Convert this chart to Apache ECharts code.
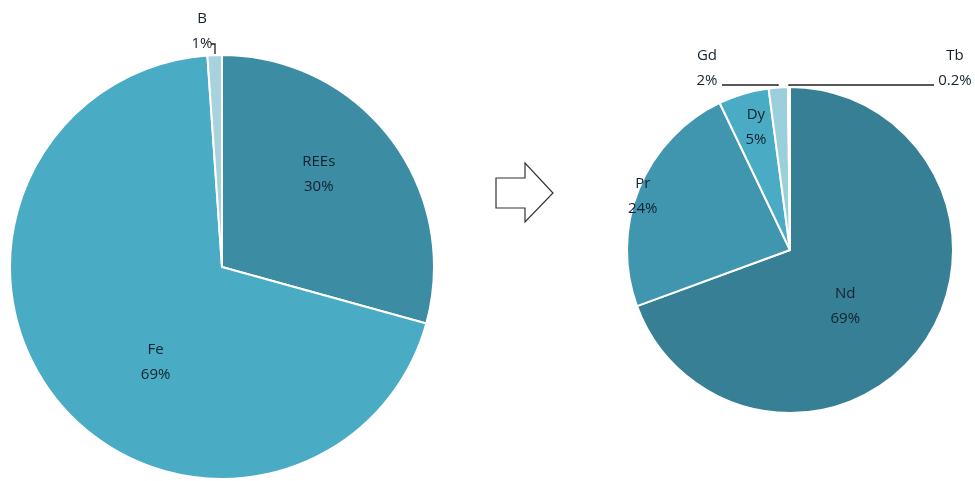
<!DOCTYPE html>
<html>
<head>
<meta charset="utf-8">
<script src="https://cdn.jsdelivr.net/npm/echarts@6/dist/echarts.min.js"></script>
<style>
  html, body { margin: 0; padding: 0; background: #fff; }
  #main { width: 975px; height: 481px; }
</style>
</head>
<body>
<div id="main"></div>
<script>
// left pie: magnet composition
var leftNames = ["REEs", "Fe", "B"];
var leftValues = [29.3, 69.6, 1.1];
var leftLabels = ["30%", "69%", "1%"];
var leftColors = ["#3c8ca4", "#4aabc5", "#a8d2de"];

// right pie: rare earth split
var rightNames = ["Nd", "Pr", "Dy", "Gd", "Tb"];
var rightValues = [69.4, 23.5, 5.0, 1.9, 0.2];
var rightLabels = ["69%", "24%", "5%", "2%", "0.2%"];
var rightColors = ["#377f95", "#4196af", "#4aabc5", "#9ccfdc", "#c9e5ee"];

// where the small outside labels go (pixel spots)
var outside = {
  B:  { x: 202, y: 31, line: [[215, 54], [215, 44], [211, 44]] },
  Gd: { x: 707, y: 68, line: [[778, 86], [778, 85], [722, 85]] },
  Tb: { x: 955, y: 68, line: [[789, 86], [789, 85], [934, 85]] }
};
// nudges for the inside labels, like excel places them
var nudge = {
  REEs: [10, -27], Fe: [18, 26],
  Nd: [-14, 8], Pr: [-69, -22], Dy: [-10, -42]
};

function buildData(names, values, labels, colors) {
  var out = [];
  for (var i = 0; i < names.length; i++) {
    var item = {
      name: names[i],
      value: values[i],
      pct: labels[i],
      itemStyle: { color: colors[i] }
    };
    if (outside[names[i]]) {
      item.label = { position: "outside" };
      item.labelLine = { show: true };
    }
    out.push(item);
  }
  return out;
}

function layoutFn(params) {
  var name = params.text.split("\n")[0];
  var o = outside[name];
  if (o) {
    return { x: o.x, y: o.y, align: "center", verticalAlign: "middle", labelLinePoints: o.line };
  }
  var n = nudge[name];
  if (n) return { dx: n[0], dy: n[1] };
  return {};
}

var labelStyle = {
  show: true,
  position: "inside",
  color: "#14222e",
  fontFamily: "Open Sans",
  fontSize: 15,
  lineHeight: 25,
  formatter: function (p) { return p.name + "\n" + p.data.pct; }
};

var myChart = echarts.init(document.getElementById("main"));
var option = {
  animation: false,
  series: [
    {
      type: "pie",
      center: [222, 267],
      radius: 212,
      startAngle: 90,
      clockwise: true,
      itemStyle: { borderColor: "#fff", borderWidth: 2 },
      label: labelStyle,
      labelLine: { show: false, lineStyle: { color: "#222", width: 1.3 } },
      labelLayout: layoutFn,
      data: buildData(leftNames, leftValues, leftLabels, leftColors)
    },
    {
      type: "pie",
      center: [790, 250],
      radius: 163,
      startAngle: 90,
      clockwise: true,
      itemStyle: { borderColor: "#fff", borderWidth: 2 },
      label: labelStyle,
      labelLine: { show: false, lineStyle: { color: "#222", width: 1.3 } },
      labelLayout: layoutFn,
      data: buildData(rightNames, rightValues, rightLabels, rightColors)
    }
  ],
  graphic: [
    {
      type: "polygon",
      shape: { points: [[496, 178], [525, 178], [525, 163], [553, 193], [525, 222], [525, 208], [496, 208]] },
      style: { fill: "#fff", stroke: "#333", lineWidth: 1.2 }
    }
  ]
};
myChart.setOption(option);
</script>
</body>
</html>
